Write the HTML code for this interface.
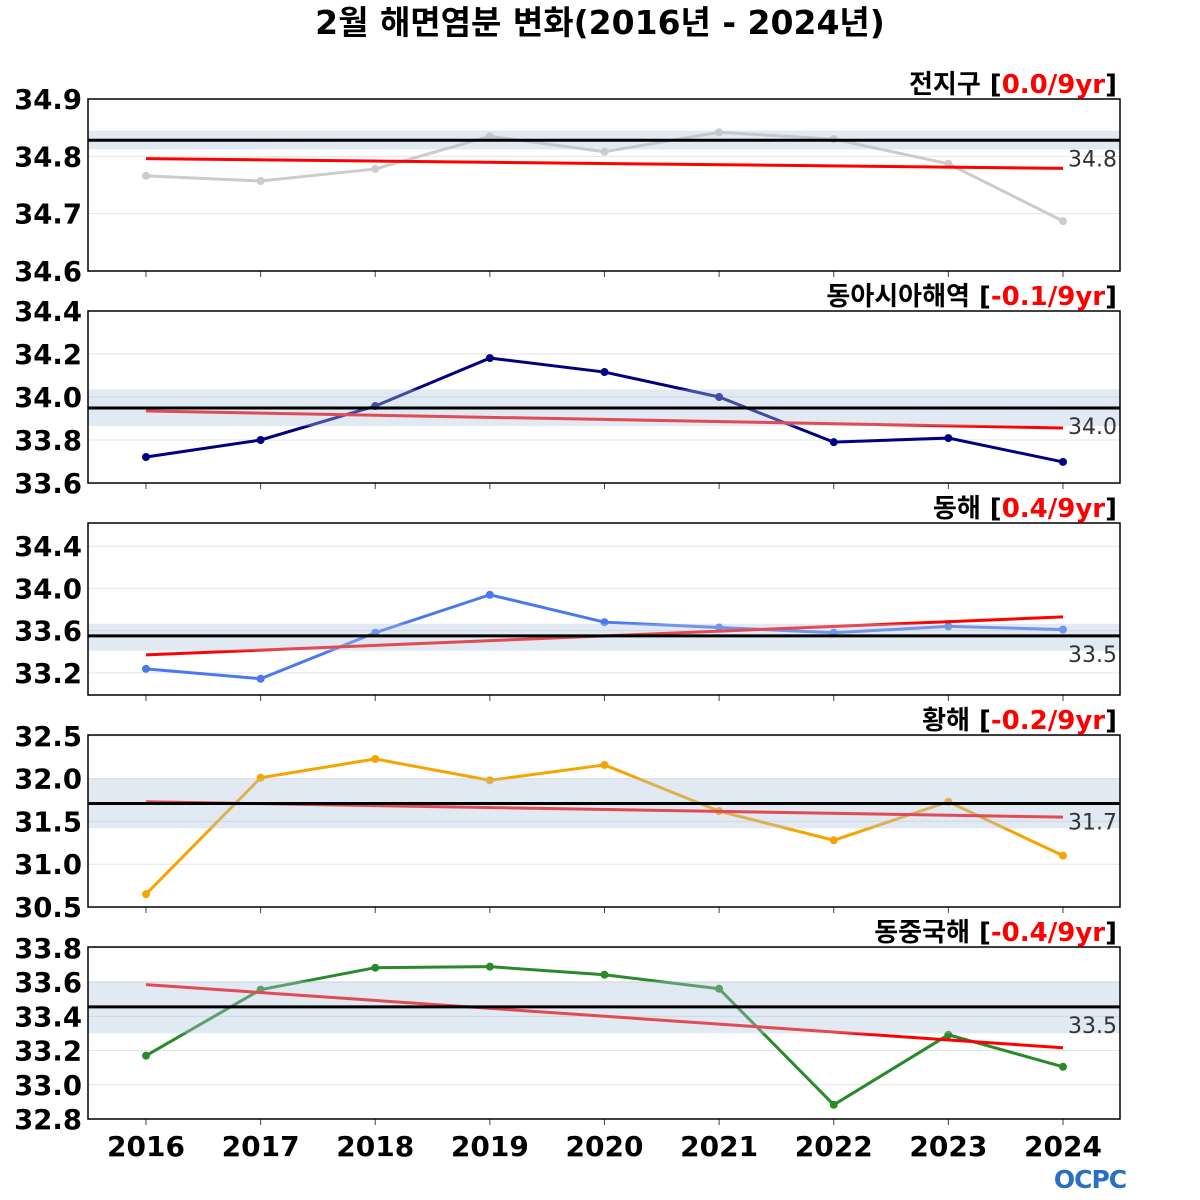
<!DOCTYPE html>
<html><head><meta charset="utf-8">
<style>
body{margin:0;background:#fff;}
svg{display:block;font-family:"DejaVu Sans","Noto Sans CJK KR",sans-serif;}
</style></head>
<body>
<svg id="chart" width="1200" height="1200" viewBox="0 0 1200 1200">
<text x="600" y="34" text-anchor="middle" font-size="33" font-weight="bold">2월 해면염분 변화(2016년 - 2024년)</text>
<g id="panels"></g>
<g id="xaxis"></g>
<g>
<text x="1090" y="1188" text-anchor="middle" font-size="25" font-weight="bold" fill="#2a6fc0" letter-spacing="-1">OCPC</text>
</g>
</svg>
<script>
const years = [2016,2017,2018,2019,2020,2021,2022,2023,2024];
const regionNames = ["전지구","동아시아해역","동해","황해","동중국해"];
const trendLabels = ["0.0/9yr","-0.1/9yr","0.4/9yr","-0.2/9yr","-0.4/9yr"];
const seriesGlobal = [34.766,34.757,34.778,34.835,34.808,34.842,34.830,34.787,34.687];
const seriesEastAsia = [33.721,33.80,33.958,34.181,34.116,34.0,33.79,33.809,33.698];
const seriesEastSea = [33.238,33.144,33.58,33.94,33.68,33.63,33.58,33.64,33.61];
const seriesYellowSea = [30.65,32.01,32.23,31.98,32.16,31.62,31.28,31.73,31.10];
const seriesECS = [33.17,33.556,33.684,33.69,33.643,33.561,32.883,33.292,33.105];
const means = [34.828,33.949,33.55,31.71,33.455];
const meanLabels = ["34.8","34.0","33.5","31.7","33.5"];
const bandLow = [34.812,33.865,33.41,31.42,33.30];
const bandHigh = [34.845,34.035,33.665,32.0,33.605];
const trendStart = [34.796,33.935,33.37,31.73,33.585];
const trendEnd = [34.779,33.856,33.73,31.55,33.216];
const yMin = [34.6,33.6,32.99,30.5,32.8];
const yMax = [34.9,34.4,34.62,32.51,33.805];
const yTicks = [[34.6,34.7,34.8,34.9],[33.6,33.8,34.0,34.2,34.4],[33.2,33.6,34.0,34.4],[30.5,31.0,31.5,32.0,32.5],[32.8,33.0,33.2,33.4,33.6,33.8]];
const allSeries = [seriesGlobal,seriesEastAsia,seriesEastSea,seriesYellowSea,seriesECS];
const colors = ["#cccccc","#000080","#4a78f0","#f5a500","#2a8a2a"];

const NS="http://www.w3.org/2000/svg";
const L=88,R=1120,panelTop=[99,311,523,735,947],PH=172;
function xS(yr){return 146+(yr-2016)*(1063-146)/8;}
function mk(tag,attrs,parent){const e=document.createElementNS(NS,tag);for(const k in attrs)e.setAttribute(k,attrs[k]);parent.appendChild(e);return e;}
const panels=document.getElementById('panels');
for(let p=0;p<5;p++){
  const t=panelTop[p];
  const yS=v=>t+PH-(v-yMin[p])/(yMax[p]-yMin[p])*PH;
  const g=mk('g',{},panels);
  
  
  yTicks[p].forEach(v=>{
    const y=yS(v);
    const gl=mk('line',{x1:L,x2:R,y1:y,y2:y,stroke:'#e4e4e4','stroke-width':1},g);
    
    
    const tl=mk('text',{x:82,y:y+10,'text-anchor':'end','font-size':27.5,'font-weight':'bold'},g);
    tl.textContent=v.toFixed(1);
    
    
  });
  years.forEach(yr=>{mk('line',{x1:xS(yr),x2:xS(yr),y1:t+PH,y2:t+PH+6,stroke:'#444','stroke-width':1},g);});
  const pts=allSeries[p].map((v,i)=>xS(years[i])+','+yS(v)).join(' ');
  const sl=mk('polyline',{points:pts,fill:'none',stroke:colors[p],'stroke-width':3},g);
  
  
  allSeries[p].forEach((v,i)=>{
    const c=mk('circle',{cx:xS(years[i]),cy:yS(v),r:4,fill:colors[p]},g);
    
    
  });
  const tr=mk('line',{x1:xS(2016),x2:xS(2024),y1:yS(trendStart[p]),y2:yS(trendEnd[p]),stroke:'#ff0000','stroke-width':3},g);
  
  
  const band=mk('rect',{x:L,y:yS(bandHigh[p]),width:R-L,height:yS(bandLow[p])-yS(bandHigh[p]),fill:'rgba(176,196,222,0.38)'},g);
  
  
  const ml=mk('line',{x1:L,x2:R,y1:yS(means[p]),y2:yS(means[p]),stroke:'#000','stroke-width':3},g);
  
  
  const mt=mk('text',{x:1117,y:yS(means[p])+26,'text-anchor':'end','font-size':22,fill:'#333'},g);
  mt.textContent=meanLabels[p];
  
  
  const fr=mk('rect',{x:L,y:t,width:R-L,height:PH,fill:'none',stroke:'#000','stroke-width':1.5},g);
  
  
  const title=mk('text',{x:1117,y:t-6,'text-anchor':'end','font-size':26,'font-weight':'bold'},g);
  
  
  const s1=mk('tspan',{},title);s1.textContent=regionNames[p]+' [';
  const s2=mk('tspan',{fill:'#ff0000'},title);s2.textContent=trendLabels[p];
  const s3=mk('tspan',{},title);s3.textContent=']';
}
const xa=document.getElementById('xaxis');
years.forEach(yr=>{
  const tx=mk('text',{x:xS(yr),y:1156,'text-anchor':'middle','font-size':28,'font-weight':'bold'},xa);
  tx.textContent=yr;
  
  
});
</script>
</body></html>
